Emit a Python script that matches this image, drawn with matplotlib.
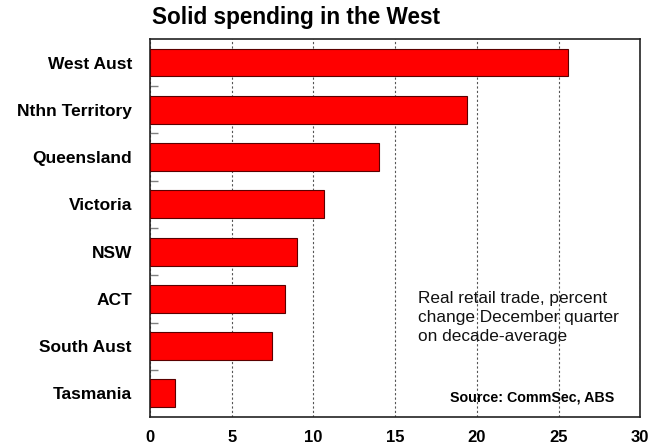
import matplotlib.pyplot as plt
import numpy as np

plt.rcParams['font.family'] = ['Liberation Sans', 'DejaVu Sans']

# real retail trade, % change Dec quarter on decade average
states = ['West Aust', 'Nthn Territory', 'Queensland', 'Victoria',
          'NSW', 'ACT', 'South Aust', 'Tasmania']
change = [25.6, 19.4, 14.0, 10.65, 9.0, 8.27, 7.47, 1.5]
xticks = [0, 5, 10, 15, 20, 25, 30]

fig = plt.figure(figsize=(6.58, 4.47), dpi=100)
ax = fig.add_axes([0.228, 0.067, 0.745, 0.846])

ypos = np.arange(len(states))
ax.barh(ypos, change, height=0.59, color='#ff0000',
        edgecolor='#5a0000', linewidth=0.8, zorder=3)

ax.set_ylim(len(states) - 0.5, -0.5)
ax.set_xlim(0, 30)

ax.set_yticks(ypos)
ax.set_yticklabels(states, fontsize=12.5, fontweight='bold')
ax.tick_params(axis='y', which='major', length=0, pad=13)
ax.set_yticks(ypos[:-1] + 0.5, minor=True)
ax.tick_params(axis='y', which='minor', direction='in', length=6,
               color='#808080', width=1)

ax.set_xticks(xticks)
ax.set_xticklabels([str(t) for t in xticks], fontsize=12, fontweight='bold')
ax.tick_params(axis='x', length=0, pad=9)

ax.grid(axis='x', linestyle=(0, (2, 2)), color='#555555', linewidth=0.8, zorder=1)
for s in ax.spines.values():
    s.set_linewidth(1.2)
    s.set_color('#222222')

fig.text(0.231, 0.960, 'Solid spending in the West', fontsize=16.3,
         fontweight='bold', va='center', ha='left')

ax.text(0.547, 0.333, 'Real retail trade, percent\nchange December quarter\non decade-average',
        transform=ax.transAxes, fontsize=12.4, va='top', ha='left',
        linespacing=1.32, color='#111111')
ax.text(0.947, 0.053, 'Source: CommSec, ABS', transform=ax.transAxes,
        fontsize=10.3, fontweight='bold', ha='right', va='center')

plt.savefig('out.png', dpi=100)
